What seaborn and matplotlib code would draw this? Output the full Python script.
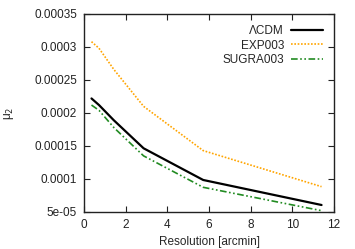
import numpy as np
import pandas as pd
import matplotlib
matplotlib.use("Agg")
import matplotlib.pyplot as plt
import seaborn as sns

resolution = [0.36, 0.72, 1.43, 2.86, 5.72, 11.4]
lcdm = [0.000222, 0.000212, 0.000189, 0.0001465, 0.0000985, 0.0000606]
exp003 = [0.000308, 0.000298, 0.000266, 0.000210, 0.000143, 0.0000884]
sugra003 = [0.000212, 0.000204, 0.000178, 0.000135, 0.0000874, 0.0000520]
series_names = ["\u039bCDM", "EXP003", "SUGRA003"]
yticks = [5e-05, 0.0001, 0.00015, 0.0002, 0.00025, 0.0003, 0.00035]
ytick_labels = ["5e-05", "0.0001", "0.00015", "0.0002", "0.00025", "0.0003", "0.00035"]
xticks = [0, 2, 4, 6, 8, 10, 12]

df = pd.DataFrame({
    "res": resolution * 3,
    "mu2": lcdm + exp003 + sugra003,
    "model": [series_names[0]] * 6 + [series_names[1]] * 6 + [series_names[2]] * 6,
})

sns.set_style("ticks")
plt.rcParams["font.family"] = ["Liberation Sans", "DejaVu Sans"]

fig = plt.figure(figsize=(3.55, 2.49), dpi=100)
ax = fig.add_axes([0.2366, 0.1486, 0.941 - 0.2366, 0.944 - 0.1486])

palette = {series_names[0]: "black", series_names[1]: "#FFA500", series_names[2]: "#228B22"}
sns.lineplot(data=df, x="res", y="mu2", hue="model", palette=palette, ax=ax, legend=False)
lines = ax.get_lines()
styles = [dict(lw=1.6, ls="-"), dict(lw=1.2, ls=(0, (1, 1))), dict(lw=1.2, ls=(0, (4, 1.5, 1, 1.5, 1, 1.5)))]
for ln, st in zip(lines, styles):
    ln.set_linewidth(st["lw"])
    ln.set_linestyle(st["ls"])
    ln.set_label(None)
for ln, name in zip(lines, series_names):
    ln.set_label(name)

ax.set_xlim(0, 12)
ax.set_ylim(5e-05, 0.00035)
ax.set_xticks(xticks)
ax.set_xticklabels([str(t) for t in xticks])
ax.set_yticks(yticks)
ax.set_yticklabels(ytick_labels)
ax.tick_params(direction="in", length=4, width=0.8, labelsize=8.5, top=True, right=True, colors="#222222")
ax.tick_params(axis="x", pad=5)
ax.tick_params(axis="y", pad=5)
for s in ax.spines.values():
    s.set_linewidth(1.0)
    s.set_color("#222222")
ax.set_xlabel("Resolution [arcmin]", fontsize=8.5, labelpad=4)
ax.set_ylabel("\u03bc$_2$", fontsize=8.5, labelpad=13)

leg = ax.legend(handles=lines, labels=series_names, loc="upper right", frameon=False,
                markerfirst=False, fontsize=8.5, handlelength=2.7, borderaxespad=0.55,
                labelspacing=0.2, handletextpad=0.6)
for t in leg.get_texts():
    t.set_ha("right")
leg._legend_box.align = "right"

fig.savefig("out.png", dpi=100)
